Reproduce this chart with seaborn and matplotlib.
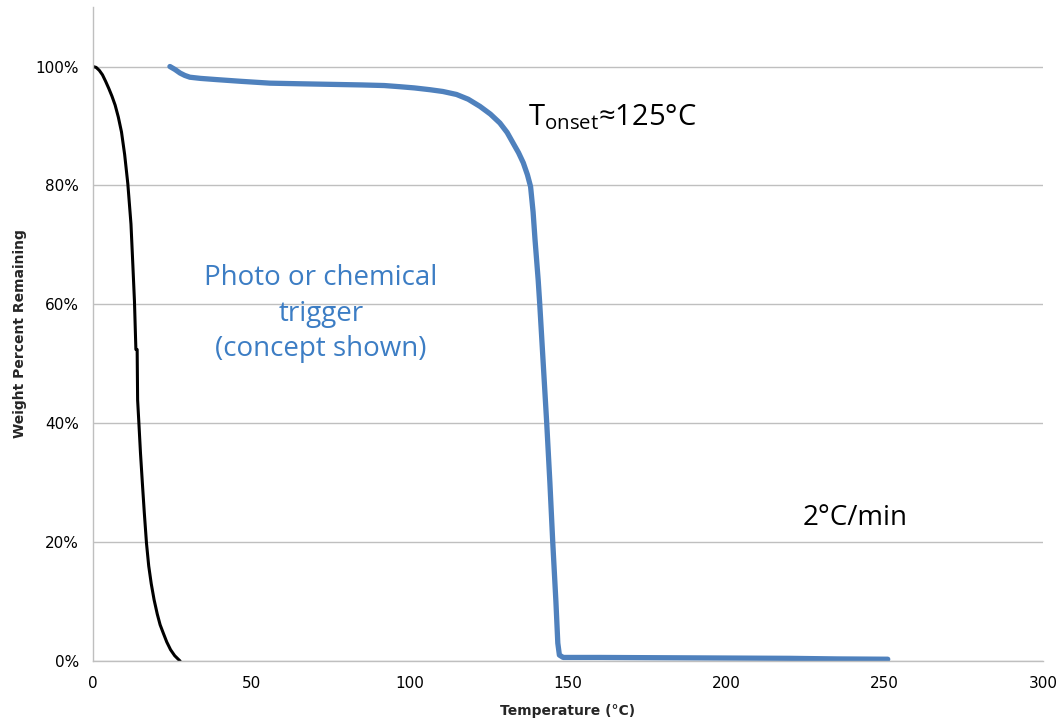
import matplotlib
matplotlib.use('Agg')
import matplotlib.pyplot as plt
import seaborn as sns
import pandas as pd
from matplotlib.ticker import PercentFormatter

# Triggered sample (black)
trig_temp = [0.0, 1.0, 2.0, 3.0, 4.0, 5.0, 6.0, 7.0, 8.0, 9.0, 10.0, 11.0, 12.0,
             12.6, 13.1, 13.55, 13.95, 14.1, 14.5, 15.0, 15.6, 16.2, 16.9, 17.6,
             18.4, 19.3, 20.3, 21.2, 22.2, 23.3, 24.5, 25.8, 27.5]
trig_wt = [100.0, 99.85, 99.35, 98.6, 97.5, 96.3, 95.0, 93.5, 91.5, 89.0, 85.2, 80.3, 73.5,
           66.5, 60.5, 52.4, 52.4, 43.9, 40.0, 35.0, 29.9, 25.0, 19.8, 16.0,
           13.0, 10.3, 7.9, 6.1, 4.7, 3.2, 1.9, 0.9, 0.0]

# Untriggered sample, 2 C/min (blue)
ctrl_temp = [24.3, 25.9, 27.5, 29.0, 30.6, 34.0, 39.0, 47.0, 55.9, 65.0, 75.0, 85.0,
             92.0, 97.0, 101.5, 106.4, 110.5, 114.8, 118.5, 122.2, 125.5, 128.5,
             130.8, 132.7, 134.4, 135.9, 137.2, 138.2, 139.0, 139.6, 140.6, 141.1,
             142.2, 143.3, 144.3, 145.2, 146.2, 146.8, 147.3, 148.5, 160.0, 180.0,
             200.0, 220.0, 235.0, 251.0]
ctrl_wt = [100.0, 99.5, 98.9, 98.5, 98.2, 98.0, 97.8, 97.5, 97.2, 97.1, 97.0, 96.9,
           96.8, 96.6, 96.4, 96.1, 95.8, 95.3, 94.5, 93.3, 92.0, 90.5,
           88.9, 87.1, 85.5, 83.8, 81.8, 79.8, 75.5, 70.9, 64.1, 60.0,
           50.0, 40.0, 30.0, 20.0, 10.0, 3.0, 1.0, 0.6, 0.6, 0.55,
           0.5, 0.45, 0.35, 0.3]

x_ticks = [0, 50, 100, 150, 200, 250, 300]
y_ticks = [0, 20, 40, 60, 80, 100]

trigger_note = ['Photo or chemical', 'trigger', '(concept shown)']

trig = pd.DataFrame({'temp': trig_temp, 'wt': trig_wt})
ctrl = pd.DataFrame({'temp': ctrl_temp, 'wt': ctrl_wt})

sns.set_style('white')
plt.rcParams['font.family'] = ['DejaVu Sans']
plt.rcParams['mathtext.fontset'] = 'custom'
plt.rcParams['mathtext.rm'] = 'Open Sans'

fig = plt.figure(figsize=(10.59, 7.21), dpi=100)
ax = fig.add_axes([0.0878, 0.0832, 0.897, 0.907])

sns.lineplot(data=trig, x='temp', y='wt', ax=ax, color='black', linewidth=2.2,
             sort=False, estimator=None)
sns.lineplot(data=ctrl, x='temp', y='wt', ax=ax, color='#4F81BD', linewidth=3.8,
             sort=False, estimator=None, solid_capstyle='round',
             solid_joinstyle='round')

ax.set_xlim(0, 300)
ax.set_ylim(0, 110)
ax.set_xticks(x_ticks)
ax.set_yticks(y_ticks)
ax.yaxis.set_major_formatter(PercentFormatter(decimals=0))
ax.tick_params(axis='both', length=0, labelsize=11, colors='black')
ax.tick_params(axis='x', pad=11)
ax.tick_params(axis='y', pad=10)
ax.grid(axis='y', color='#BFBFBF', linewidth=1)
ax.set_axisbelow(True)
for side in ['top', 'right']:
    ax.spines[side].set_visible(False)
for side in ['left', 'bottom']:
    ax.spines[side].set_color('#BFBFBF')
    ax.spines[side].set_linewidth(1)

ax.set_xlabel('Temperature (°C)', fontsize=10, fontweight='bold', labelpad=9)
ax.set_ylabel('Weight Percent Remaining', fontsize=10, fontweight='bold', labelpad=6)

# three lines of the note, 36 px apart as in the original
for i, line in enumerate(trigger_note):
    ax.text(72.0, 64.5 - 6.05 * i, line, ha='center', va='center', fontsize=20,
            color='#3C7DC4', family='Open Sans')
ax.text(137.5, 91.5, r'T$_{\mathrm{onset}}$≈125°C', ha='left', va='center',
        fontsize=21, color='black', family='Open Sans')
ax.text(224, 24, '2°C/min', ha='left', va='center', fontsize=20, color='black',
        family='Open Sans')

plt.savefig('out.png', dpi=100)
plt.close()
